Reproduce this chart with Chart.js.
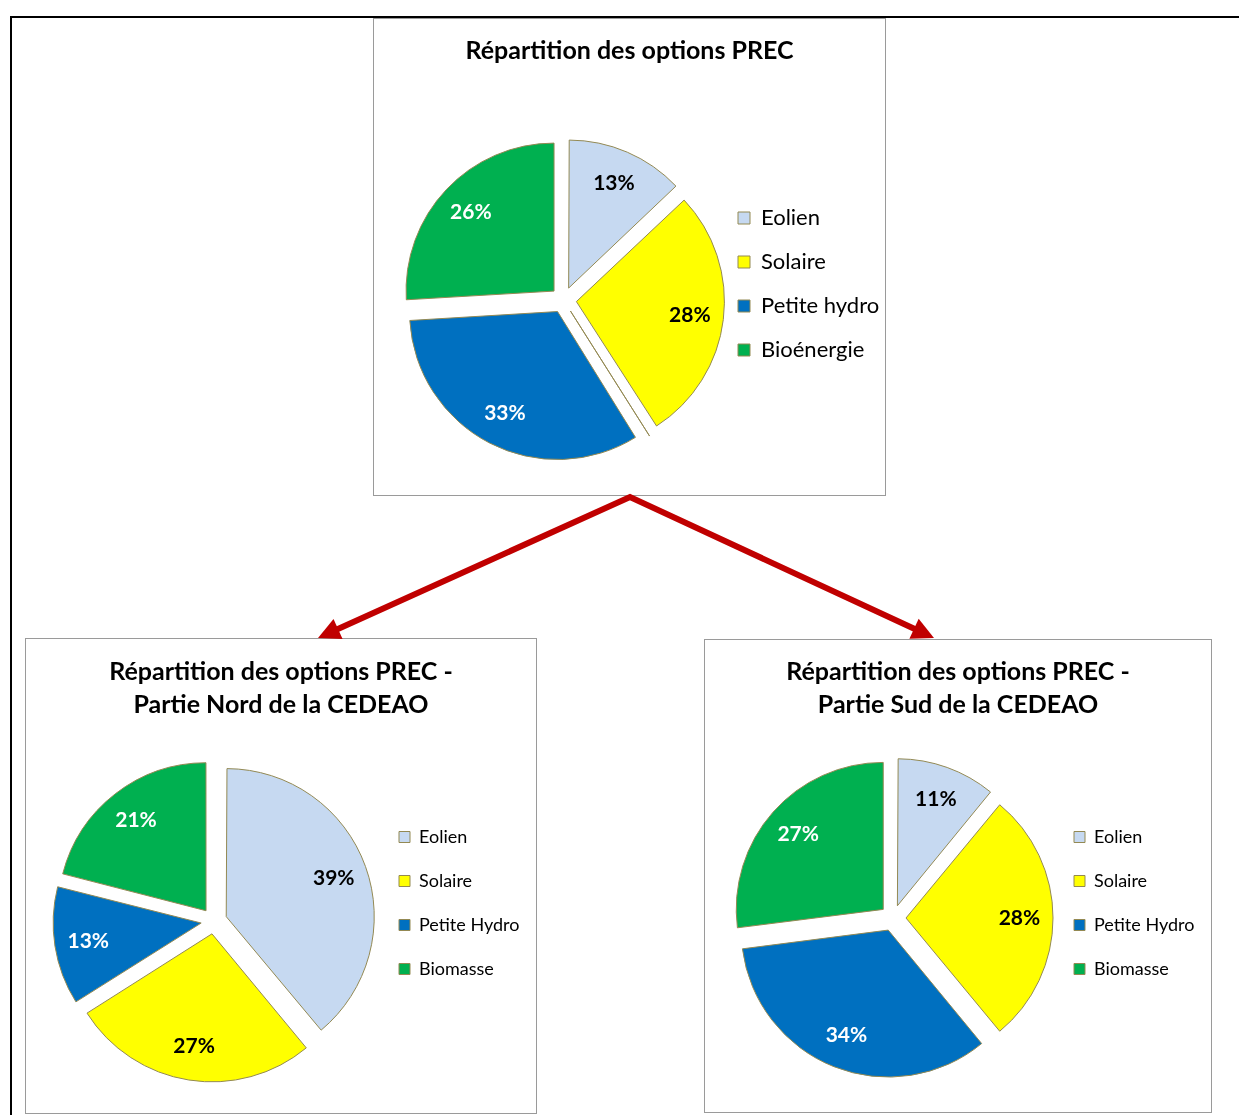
<!DOCTYPE html>
<html lang="fr">
<head>
<meta charset="utf-8">
<title>Répartition des options PREC</title>
<script src="https://cdn.jsdelivr.net/npm/chart.js@4.4.1/dist/chart.umd.min.js"></script>
<style>
  html, body { margin: 0; padding: 0; background: #fff; }
  body { width: 1239px; height: 1115px; position: relative; overflow: hidden; }
  .frame { position: absolute; left: 10px; top: 16px; width: 1400px; height: 1200px;
           border-top: 2px solid #000; border-left: 2px solid #000; }
  .panel { position: absolute; border: 1px solid #9a9a9a; background: #fff; }
  .panel canvas { display: block; }
  #arrows { position: absolute; left: 0; top: 0; }
</style>
</head>
<body>
<div class="frame"></div>
<div class="panel" id="p-all"><canvas></canvas></div>
<div class="panel" id="p-nord"><canvas></canvas></div>
<div class="panel" id="p-sud"><canvas></canvas></div>
<svg id="arrows" width="1239" height="1115"></svg>

<script>
// ---- data -------------------------------------------------------------
// PREC options, whole region (the unnamed entry is a residual share shown as a hairline slice)
const categoriesPrec = ['Eolien', 'Solaire', '', 'Petite hydro', 'Bioénergie'];
const sharesPrec = [13, 28, 0.25, 33, 26];
const titlePrec = ['Répartition des options PREC'];

// Northern part of ECOWAS
const categoriesNord = ['Eolien', 'Solaire', 'Petite Hydro', 'Biomasse'];
const sharesNord = [39, 27, 13, 21];
const titleNord = ['Répartition des options PREC -', 'Partie Nord de la CEDEAO'];

// Southern part of ECOWAS
const categoriesSud = ['Eolien', 'Solaire', 'Petite Hydro', 'Biomasse'];
const sharesSud = [11, 28, 34, 27];
const titleSud = ['Répartition des options PREC -', 'Partie Sud de la CEDEAO'];

// ---- styling ----------------------------------------------------------
const FAMILY = 'Lato';
const EDGE = '#938953';
const sliceFill = {
  'Eolien': '#C6D9F1', 'Solaire': '#FFFF00',
  'Petite hydro': '#0070C0', 'Petite Hydro': '#0070C0',
  'Bioénergie': '#00B050', 'Biomasse': '#00B050', '': '#FFFFFF'
};
const sliceInk = {
  'Eolien': '#000', 'Solaire': '#000',
  'Petite hydro': '#fff', 'Petite Hydro': '#fff',
  'Bioénergie': '#fff', 'Biomasse': '#fff'
};
Chart.defaults.font.family = FAMILY;
Chart.defaults.color = '#000';

// Reserve empty room on the left of the plot area, so the pie can sit
// off-centre while the title stays centred on the panel.
const gutterPlugin = {
  id: 'gutter',
  start(chart, args, opts) {
    const box = {
      position: 'left', weight: -10, fullSize: false, options: { display: false },
      left: 0, top: 0, right: 0, bottom: 0, width: 0, height: 0,
      isHorizontal() { return false; },
      update(maxWidth, maxHeight) { this.width = opts.width || 0; this.height = maxHeight; },
      draw() {}
    };
    Chart.layouts.addBox(chart, box);
  }
};

// Exploded slices keep the same outer radius, whatever their angle.
const evenRadiusPlugin = {
  id: 'evenRadius',
  afterDatasetUpdate(chart, args) {
    args.meta.data.forEach(arc => {
      const shift = ((arc.options && arc.options.offset) || 0) / 4;
      const grow = shift * (1 - Math.sin(Math.min(Math.PI, arc.circumference || 0)));
      arc.outerRadius = Math.max(arc.outerRadius - grow, 0);
    });
  }
};

// Percentage written inside each slice.
const sliceLabelPlugin = {
  id: 'sliceLabels',
  afterDatasetsDraw(chart, args, opts) {
    const meta = chart.getDatasetMeta(0);
    const values = chart.data.datasets[0].data;
    const R = meta.controller.outerRadius;
    const ctx = chart.ctx;
    ctx.save();
    ctx.font = `bold ${opts.size}px ${FAMILY}`;
    ctx.textAlign = 'center';
    ctx.textBaseline = 'middle';
    meta.data.forEach((arc, i) => {
      const name = chart.data.labels[i];
      if (!name) return;
      const mid = (arc.startAngle + arc.endAngle) / 2;
      const d = R * opts.distance;
      ctx.fillStyle = sliceInk[name] || '#000';
      ctx.fillText(`${values[i]}%`, arc.x + Math.cos(mid) * d, arc.y + Math.sin(mid) * d);
    });
    ctx.restore();
  }
};

const measureCtx = document.createElement('canvas').getContext('2d');
function textWidth(str, font) { measureCtx.font = font; return measureCtx.measureText(str).width; }

const LEGEND_EXTRA = 10;   // space Chart.js keeps beside a vertical legend column

const panels = [
  { id: 'all', box: { x: 373, y: 18, w: 513, h: 478 },
    categories: categoriesPrec, values: sharesPrec, title: titlePrec,
    titleWidth: 328, titleY: 51, centre: [563.5, 300], radius: 148, explode: 13,
    legendX: 761, legendY: 218, legendSize: 22, legendStep: 44, legendBox: 12, labelSize: 21 },
  { id: 'nord', box: { x: 25, y: 638, w: 512, h: 476 },
    categories: categoriesNord, values: sharesNord, title: titleNord,
    titleWidth: 343, titleY: 672, centre: [214, 921], radius: 148, explode: 13,
    legendX: 419, legendY: 837, legendSize: 18, legendStep: 44, legendBox: 11, labelSize: 21 },
  { id: 'sud', box: { x: 704, y: 639, w: 508, h: 474 },
    categories: categoriesSud, values: sharesSud, title: titleSud,
    titleWidth: 342, titleY: 672, centre: [893, 918], radius: 147, explode: 13,
    legendX: 1094, legendY: 837, legendSize: 18, legendStep: 44, legendBox: 11, labelSize: 21 }
];

function buildPanel(p) {
  const wrap = document.getElementById('p-' + p.id);
  const W = p.box.w - 2, H = p.box.h - 2;
  const ox = p.box.x + 1, oy = p.box.y + 1;
  Object.assign(wrap.style, { left: p.box.x + 'px', top: p.box.y + 'px', width: W + 'px', height: H + 'px' });
  const canvas = wrap.querySelector('canvas');
  canvas.width = W; canvas.height = H;
  canvas.style.width = W + 'px'; canvas.style.height = H + 'px';

  // title size chosen so the first line spans the wanted width
  const titleSize = Math.round(22 * p.titleWidth / textWidth(p.title[0], `bold 22px ${FAMILY}`) * 2) / 2;

  // vertical placement
  const lineH = 33;
  const titleTop = (p.titleY - oy) - lineH / 2;
  const itemH = p.legendSize;
  const gap = p.legendStep - itemH;
  const plotTop = (p.legendY - oy) - gap - itemH / 2;
  const titleBottom = plotTop - titleTop - p.title.length * lineH;
  const plotBottom = 2 * (p.centre[1] - oy) - plotTop;
  const padBottom = H - plotBottom;

  // horizontal placement
  const legendFont = `normal ${p.legendSize}px ${FAMILY}`;
  const tMax = Math.max(...p.categories.filter(c => c).map(c => textWidth(c, legendFont)));
  const textX = p.legendX - ox;
  const side = W - tMax - textX - LEGEND_EXTRA;
  const plotRight = textX - p.legendSize / 2 - p.legendBox - gap;
  const gutter = 2 * (p.centre[0] - ox) - plotRight - side;

  new Chart(canvas, {
    type: 'pie',
    data: {
      labels: p.categories,
      datasets: [{
        data: p.values,
        backgroundColor: p.categories.map(c => sliceFill[c]),
        borderColor: EDGE,
        borderWidth: 1,
        borderJoinStyle: 'miter',
        offset: p.explode * 4,
        radius: p.radius
      }]
    },
    options: {
      responsive: false,
      animation: false,
      events: [],
      layout: { padding: { left: side, right: side, top: 0, bottom: padBottom } },
      plugins: {
        title: {
          display: true, text: p.title, color: '#000',
          font: { family: FAMILY, size: titleSize, weight: 'bold', lineHeight: lineH / titleSize },
          padding: { top: titleTop, bottom: titleBottom }
        },
        legend: {
          position: 'right', align: 'start', fullSize: false,
          labels: {
            color: '#000', font: { family: FAMILY, size: p.legendSize },
            boxWidth: p.legendBox, boxHeight: p.legendBox, padding: gap,
            filter: item => item.text !== ''
          }
        },
        tooltip: { enabled: false },
        gutter: { width: gutter },
        sliceLabels: { size: p.labelSize, distance: 0.86 }
      }
    },
    plugins: [gutterPlugin, evenRadiusPlugin, sliceLabelPlugin]
  });
}
panels.forEach(buildPanel);

// ---- red arrows from the regional chart to the two sub-regions ---------
(function drawArrows() {
  const svg = document.getElementById('arrows');
  const NS = 'http://www.w3.org/2000/svg';
  const root = [630, 497];
  const tips = [[318, 638], [934, 638]];
  const headLen = 22, headHalf = 11, colour = '#C00000';
  const ends = tips.map(([tx, ty]) => {
    const dx = tx - root[0], dy = ty - root[1];
    const len = Math.hypot(dx, dy), ux = dx / len, uy = dy / len;
    const bx = tx - ux * headLen, by = ty - uy * headLen;
    const head = document.createElementNS(NS, 'polygon');
    head.setAttribute('points', `${tx},${ty} ${bx - uy * headHalf},${by + ux * headHalf} ${bx + uy * headHalf},${by - ux * headHalf}`);
    head.setAttribute('fill', colour);
    svg.appendChild(head);
    return [bx + ux * 2, by + uy * 2];
  });
  const line = document.createElementNS(NS, 'polyline');
  line.setAttribute('points', `${ends[0][0]},${ends[0][1]} ${root[0]},${root[1]} ${ends[1][0]},${ends[1][1]}`);
  line.setAttribute('fill', 'none');
  line.setAttribute('stroke', colour);
  line.setAttribute('stroke-width', '6');
  line.setAttribute('stroke-linejoin', 'miter');
  svg.appendChild(line);
})();
</script>
</body>
</html>
